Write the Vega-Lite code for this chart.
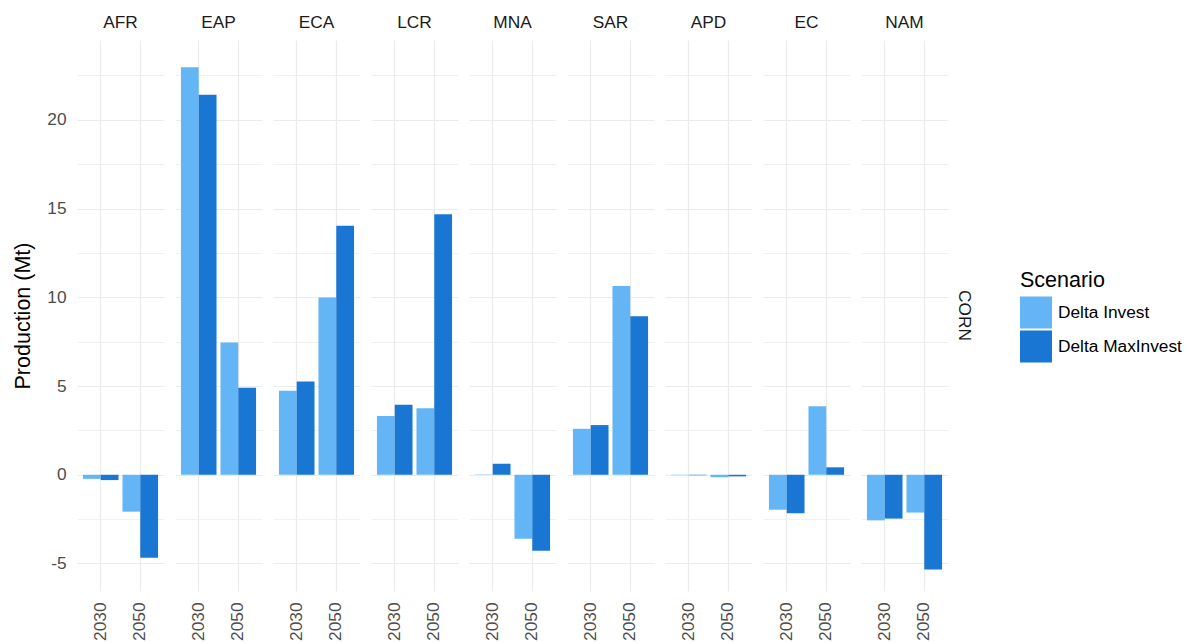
{
  "$schema": "https://vega.github.io/schema/vega-lite/v6.json",
  "background": "white",
  "padding": {"left": 12, "top": 13, "right": 5, "bottom": 0},
  "data": {"values": [
    {"crop": "CORN", "region": "AFR", "year": "2030", "scenario": "Delta Invest", "value": -0.23},
    {"crop": "CORN", "region": "AFR", "year": "2030", "scenario": "Delta MaxInvest", "value": -0.3},
    {"crop": "CORN", "region": "AFR", "year": "2050", "scenario": "Delta Invest", "value": -2.08},
    {"crop": "CORN", "region": "AFR", "year": "2050", "scenario": "Delta MaxInvest", "value": -4.67},
    {"crop": "CORN", "region": "EAP", "year": "2030", "scenario": "Delta Invest", "value": 22.96},
    {"crop": "CORN", "region": "EAP", "year": "2030", "scenario": "Delta MaxInvest", "value": 21.41},
    {"crop": "CORN", "region": "EAP", "year": "2050", "scenario": "Delta Invest", "value": 7.45},
    {"crop": "CORN", "region": "EAP", "year": "2050", "scenario": "Delta MaxInvest", "value": 4.9},
    {"crop": "CORN", "region": "ECA", "year": "2030", "scenario": "Delta Invest", "value": 4.74},
    {"crop": "CORN", "region": "ECA", "year": "2030", "scenario": "Delta MaxInvest", "value": 5.25},
    {"crop": "CORN", "region": "ECA", "year": "2050", "scenario": "Delta Invest", "value": 9.99},
    {"crop": "CORN", "region": "ECA", "year": "2050", "scenario": "Delta MaxInvest", "value": 14.03},
    {"crop": "CORN", "region": "LCR", "year": "2030", "scenario": "Delta Invest", "value": 3.31},
    {"crop": "CORN", "region": "LCR", "year": "2030", "scenario": "Delta MaxInvest", "value": 3.95},
    {"crop": "CORN", "region": "LCR", "year": "2050", "scenario": "Delta Invest", "value": 3.75},
    {"crop": "CORN", "region": "LCR", "year": "2050", "scenario": "Delta MaxInvest", "value": 14.68},
    {"crop": "CORN", "region": "MNA", "year": "2030", "scenario": "Delta Invest", "value": 0.02},
    {"crop": "CORN", "region": "MNA", "year": "2030", "scenario": "Delta MaxInvest", "value": 0.62},
    {"crop": "CORN", "region": "MNA", "year": "2050", "scenario": "Delta Invest", "value": -3.61},
    {"crop": "CORN", "region": "MNA", "year": "2050", "scenario": "Delta MaxInvest", "value": -4.28},
    {"crop": "CORN", "region": "SAR", "year": "2030", "scenario": "Delta Invest", "value": 2.59},
    {"crop": "CORN", "region": "SAR", "year": "2030", "scenario": "Delta MaxInvest", "value": 2.8},
    {"crop": "CORN", "region": "SAR", "year": "2050", "scenario": "Delta Invest", "value": 10.64},
    {"crop": "CORN", "region": "SAR", "year": "2050", "scenario": "Delta MaxInvest", "value": 8.93},
    {"crop": "CORN", "region": "APD", "year": "2030", "scenario": "Delta Invest", "value": -0.02},
    {"crop": "CORN", "region": "APD", "year": "2030", "scenario": "Delta MaxInvest", "value": -0.03},
    {"crop": "CORN", "region": "APD", "year": "2050", "scenario": "Delta Invest", "value": -0.14},
    {"crop": "CORN", "region": "APD", "year": "2050", "scenario": "Delta MaxInvest", "value": -0.09},
    {"crop": "CORN", "region": "EC", "year": "2030", "scenario": "Delta Invest", "value": -1.97},
    {"crop": "CORN", "region": "EC", "year": "2030", "scenario": "Delta MaxInvest", "value": -2.17},
    {"crop": "CORN", "region": "EC", "year": "2050", "scenario": "Delta Invest", "value": 3.86},
    {"crop": "CORN", "region": "EC", "year": "2050", "scenario": "Delta MaxInvest", "value": 0.42},
    {"crop": "CORN", "region": "NAM", "year": "2030", "scenario": "Delta Invest", "value": -2.57},
    {"crop": "CORN", "region": "NAM", "year": "2030", "scenario": "Delta MaxInvest", "value": -2.47},
    {"crop": "CORN", "region": "NAM", "year": "2050", "scenario": "Delta Invest", "value": -2.13},
    {"crop": "CORN", "region": "NAM", "year": "2050", "scenario": "Delta MaxInvest", "value": -5.34}
  ]},
  "facet": {
    "column": {
      "field": "region", "type": "nominal",
      "sort": ["AFR", "EAP", "ECA", "LCR", "MNA", "SAR", "APD", "EC", "NAM"],
      "header": {"title": null, "labelFontSize": 17.3, "labelColor": "#1a1a1a", "labelPadding": 9, "labelFont": "Liberation Sans"}
    },
    "row": {
      "field": "crop", "type": "nominal",
      "header": {"title": null, "labelOrient": "right", "labelAngle": 90, "labelFontSize": 17.3, "labelColor": "#1a1a1a", "labelPadding": 8, "labelFont": "Liberation Sans"}
    }
  },
  "spacing": {"column": 11, "row": 0},
  "spec": {
    "width": 87,
    "height": 551,
    "mark": {"type": "bar"},
    "encoding": {
      "x": {
        "field": "year", "type": "nominal",
        "scale": {"paddingInner": 0.1, "paddingOuter": 0.15},
        "axis": {"title": null, "labelAngle": -90, "labelAlign": "right", "labelBaseline": "middle", "labelPadding": 11, "labelFontSize": 17.3, "labelColor": "#4d4d4d", "ticks": false, "domain": false, "grid": true, "gridColor": "#ebebeb", "gridWidth": 1.2, "bandPosition": 0.5}
      },
      "xOffset": {"field": "scenario", "type": "nominal", "scale": {"paddingInner": 0, "paddingOuter": 0}},
      "y": {
        "field": "value", "type": "quantitative",
        "scale": {"domain": [-6.55, 24.5], "nice": false, "zero": false},
        "axis": {
          "title": "Production (Mt)", "titleFontSize": 21.5, "titleFontWeight": "normal", "titleColor": "#000000", "titlePadding": 12,
          "values": [-5, -2.5, 0, 2.5, 5, 7.5, 10, 12.5, 15, 17.5, 20, 22.5],
          "labelExpr": "datum.value % 5 === 0 ? toString(datum.value) : ''",
          "labelFontSize": 17.3, "labelColor": "#4d4d4d", "labelPadding": 11,
          "ticks": false, "domain": false, "grid": true, "gridColor": "#ebebeb",
          "gridWidth": {"condition": {"test": "datum.value % 5 === 0", "value": 1.2}, "value": 0.7}
        }
      },
      "color": {
        "field": "scenario", "type": "nominal",
        "scale": {"domain": ["Delta Invest", "Delta MaxInvest"], "range": ["#64b5f6", "#1976d2"]},
        "legend": {"title": "Scenario", "orient": "none", "legendX": 943, "legendY": 230, "titleFontSize": 21.5, "titleFontWeight": "normal", "titleColor": "#000000", "labelFontSize": 17.3, "labelColor": "#000000", "symbolType": "square", "symbolSize": 1024, "symbolStrokeWidth": 0, "rowPadding": 2, "labelOffset": 6, "titlePadding": 5}
      }
    }
  },
  "config": {
    "font": "Liberation Sans",
    "view": {"stroke": null},
    "axis": {"labelFont": "Liberation Sans", "titleFont": "Liberation Sans"},
    "legend": {"labelFont": "Liberation Sans", "titleFont": "Liberation Sans"}
  }
}
